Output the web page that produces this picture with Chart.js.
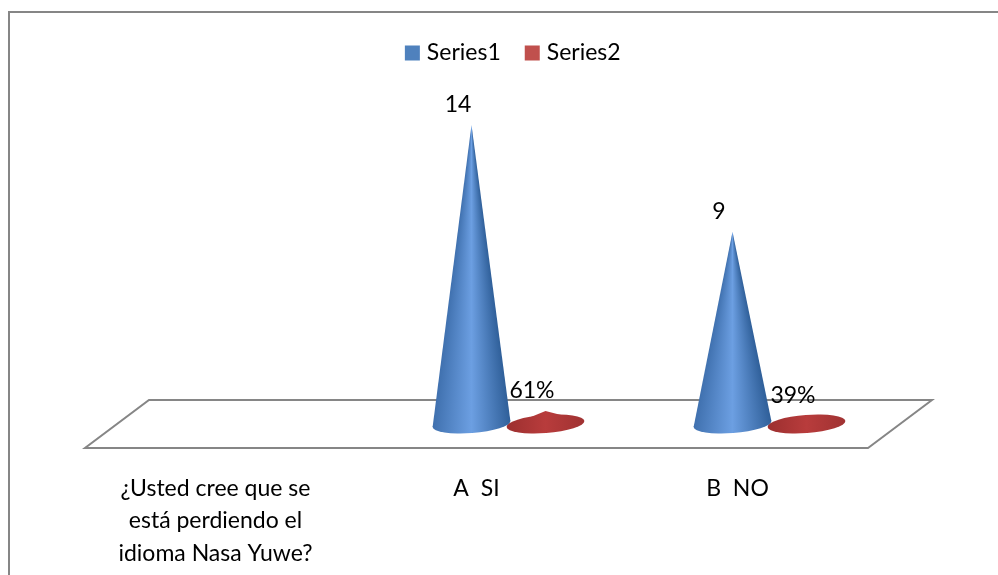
<!DOCTYPE html>
<html>
	<head>
		<meta charset="UTF-8" />
		<title>Chart</title>
		<style type="text/css">
html, body { margin: 0; padding: 0; background: #fff; overflow: hidden; }
canvas { display: block; }
		</style>
	</head>
	<body>
		<script src="https://cdn.jsdelivr.net/npm/chart.js@4/dist/chart.umd.js"></script>
		<canvas id="myChart" width="998" height="575"></canvas>
		<script charset="utf-8">
			const labels = [
				['¿Usted cree que se', 'está perdiendo el', 'idioma Nasa Yuwe?'],
				'A  SI',
				'B  NO',
			];
			const series1 = [null, 14, 9];
			const series2 = [null, 0.61, 0.39];

			const fontName = 'Lato, "Open Sans", sans-serif';
			const lineGrey = '#868686';

			// how far the back edge of the floor sits from the front edge
			const depthX = 64;
			const depthY = -48;

			const shades = {
				blue: { edgeL: '#3f70ae', mid: '#6c9fe2', edgeR: '#30609a' },
				red: { edgeL: '#9c2f2f', mid: '#b83c3c', edgeR: '#a03232' },
			};

			function coneFill(ctx, s, ax, ay, cx, cy, rx) {
				if (cy - ay < rx) {
					// too flat for a fan, plain left to right shading
					const g = ctx.createLinearGradient(cx - rx, 0, cx + rx, 0);
					g.addColorStop(0, s.edgeL);
					g.addColorStop(0.5, s.mid);
					g.addColorStop(1, s.edgeR);
					return g;
				}
				// shading fans out from the tip
				const right = Math.atan2(cy - ay, rx);
				const left = Math.atan2(cy - ay, -rx);
				const turn = (left - right) / (Math.PI * 2);
				const g = ctx.createConicGradient(right, ax, ay);
				g.addColorStop(0, s.edgeR);
				g.addColorStop(turn * 0.5, s.mid);
				g.addColorStop(turn, s.edgeL);
				g.addColorStop(Math.min(turn + 0.01, 1), s.edgeL);
				g.addColorStop(1, s.edgeR);
				return g;
			}

			function drawCone(ctx, el, s) {
				const rx = el.width / 2;
				const ry = 9;
				const tilt = -0.075;
				const cx = el.x + depthX / 2;
				const cy = el.base + depthY / 2;
				const ax = cx;
				const ay = el.y + depthY / 2;
				const dx = Math.cos(tilt) * rx;
				const dy = Math.sin(tilt) * rx;
				ctx.save();
				ctx.fillStyle = coneFill(ctx, s, ax, ay, cx, cy, rx);
				ctx.beginPath();
				ctx.ellipse(cx, cy, rx, ry, tilt, 0, Math.PI * 2);
				ctx.fill();
				ctx.beginPath();
				ctx.moveTo(ax, ay);
				ctx.lineTo(cx + dx, cy + dy);
				ctx.lineTo(cx - dx, cy - dy);
				ctx.closePath();
				ctx.fill();
				ctx.restore();
			}

			const conePlugin = {
				id: 'cones',
				beforeDraw(chart) {
					const ctx = chart.ctx;
					const a = chart.chartArea;
					ctx.save();
					// chart frame, left and top sides
					ctx.strokeStyle = lineGrey;
					ctx.lineWidth = 2;
					ctx.beginPath();
					ctx.moveTo(9, chart.height);
					ctx.lineTo(9, 12);
					ctx.lineTo(chart.width, 12);
					ctx.stroke();
					// floor
					ctx.beginPath();
					ctx.moveTo(a.left, a.bottom);
					ctx.lineTo(a.right, a.bottom);
					ctx.lineTo(a.right + depthX, a.bottom + depthY);
					ctx.lineTo(a.left + depthX, a.bottom + depthY);
					ctx.closePath();
					ctx.stroke();
					ctx.restore();
				},
				beforeDatasetDraw(chart, args) {
					const ds = chart.data.datasets[args.index];
					args.meta.data.forEach((el, i) => {
						if (ds.data[i] !== null) drawCone(chart.ctx, el, ds.shade);
					});
					return false;
				},
				afterDatasetsDraw(chart) {
					const ctx = chart.ctx;
					ctx.save();
					ctx.fillStyle = '#000';
					ctx.font = '23px ' + fontName;
					ctx.textAlign = 'center';
					ctx.textBaseline = 'middle';
					chart.data.datasets.forEach((ds, d) => {
						chart.getDatasetMeta(d).data.forEach((el, i) => {
							if (ds.data[i] === null) return;
							const text = ds.percent ? Math.round(ds.data[i] * 100) + '%' : String(ds.data[i]);
							ctx.fillText(text, el.x + 18.5, el.y + depthY / 2 - 20);
						});
					});
					ctx.restore();
				},
			};

			const data = {
				labels: labels,
				datasets: [
					{
						label: 'Series1',
						data: series1,
						backgroundColor: '#4f81bd',
						borderColor: '#4f81bd',
						borderWidth: 9,
						shade: shades.blue,
						percent: false,
						yAxisID: 'y',
					},
					{
						label: 'Series2',
						data: series2,
						backgroundColor: '#c0504d',
						borderColor: '#c0504d',
						borderWidth: 9,
						shade: shades.red,
						percent: true,
						yAxisID: 'y',
					},
				],
			};

			const config = {
				type: 'bar',
				data,
				plugins: [conePlugin],
				options: {
					responsive: false,
					animation: false,
					categoryPercentage: 0.567,
					barPercentage: 1.054,
					layout: { padding: { left: 32, top: 13 } },
					plugins: {
						tooltip: { enabled: false },
						legend: {
							position: 'top',
							labels: {
								boxWidth: 6,
								boxHeight: 6,
								padding: 28.5,
								color: '#000',
								font: { family: fontName, size: 23 },
							},
						},
					},
					scales: {
						x: {
							grid: { display: false },
							border: { display: false },
							ticks: {
								autoSkip: false,
								maxRotation: 0,
								padding: 16,
								color: '#000',
								font: { family: fontName, size: 23, lineHeight: 1.42 },
							},
							afterFit: scale => { scale.height = 127; },
						},
						y: {
							min: 0,
							max: 17.49,
							grid: { display: false },
							border: { display: false },
							ticks: { display: false },
							afterFit: scale => { scale.width = 53; },
						},
						spacer: {
							position: 'right',
							grid: { display: false },
							border: { display: false },
							ticks: { display: false },
							afterFit: scale => { scale.width = 130; },
						},
					},
				},
			};

			var ctx = document.getElementById('myChart').getContext('2d');
			var myChart = new Chart(ctx, config);
		</script>
	</body>
</html>
